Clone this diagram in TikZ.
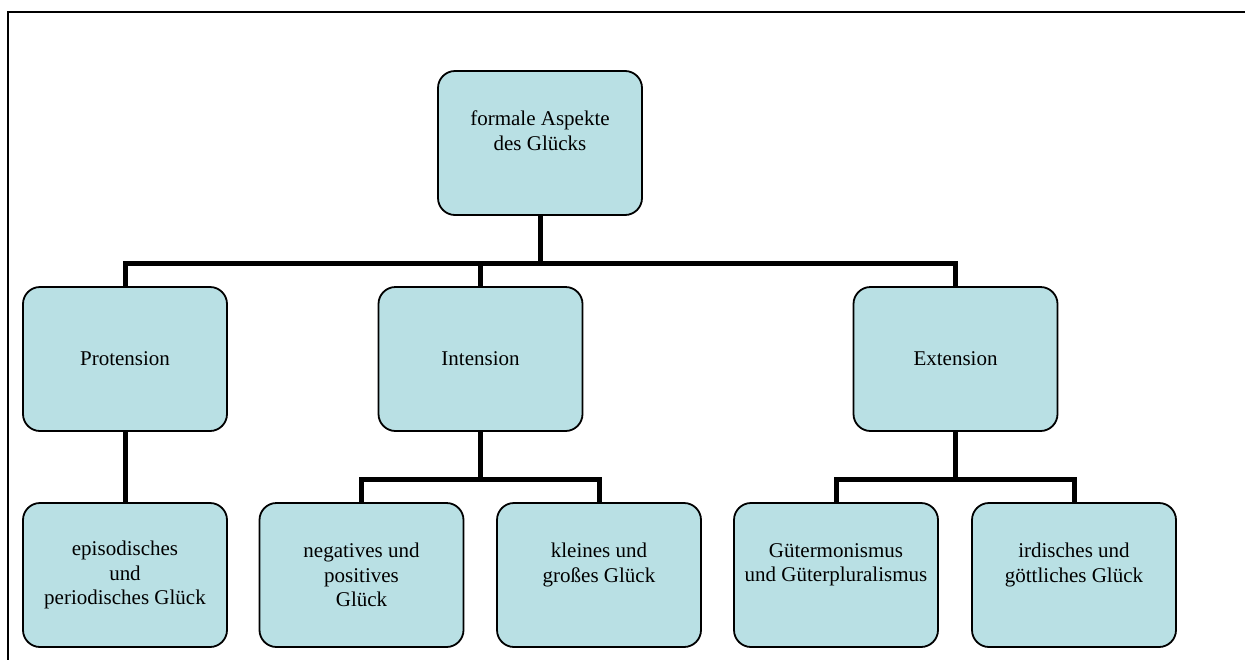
\documentclass[tikz,border=0pt]{standalone}
\usepackage{fontspec}
\setmainfont{Liberation Serif}
\begin{document}
\begin{tikzpicture}[x=1pt,y=-1pt,
  box/.style={draw=black, line width=1.8pt, fill=boxfill, rounded corners=17pt,
    minimum width=204pt, minimum height=144pt, inner sep=0pt,
    align=center, font=\fontsize{21}{24.5}\selectfont},
  link/.style={line width=5pt, draw=black, line join=miter}]
\definecolor{boxfill}{RGB}{185,224,228}
\useasboundingbox (0,0) rectangle (1245,659);
% open frame: top and left edges
\draw[line width=2pt, line cap=rect] (1250,12) -- (8,12) -- (8,665);

% level 0
\node[box] (top) at (540,143) {formale Aspekte\\des Glücks\\\mbox{}};
% level 1
\node[box] (prot) at (125,359) {Protension};
\node[box] (int)  at (480.5,359) {Intension};
\node[box] (ext)  at (955.5,359) {Extension};
% level 2
\node[box] (epi)  at (125,575) {episodisches\\und\\periodisches Glück};
\node[box] (neg)  at (361.5,575) {negatives und\\positives\\Glück};
\node[box] (klein) at (599,575) {kleines und\\großes Glück\\\mbox{}};
\node[box] (guet) at (836,575) {Gütermonismus\\und Güterpluralismus\\\mbox{}};
\node[box] (ird)  at (1074,575) {irdisches und\\göttliches Glück\\\mbox{}};

% junction points of the connector bars
\coordinate (j0) at (540,263);
\coordinate (j1) at (480.5,479);
\coordinate (j2) at (955.5,479);

\begin{scope}[on background layer/.try]
\draw[link] (top.south) -- (j0) -| (prot.north);
\draw[link] (j0) -| (ext.north);
\draw[link] (j0 -| int.north) -- (int.north);
\draw[link] (prot.south) -- (epi.north);
\draw[link] (int.south) -- (j1) -| (neg.north);
\draw[link] (j1) -| (klein.north);
\draw[link] (ext.south) -- (j2) -| (guet.north);
\draw[link] (j2) -| (ird.north);
\end{scope}
\end{tikzpicture}
\end{document}
